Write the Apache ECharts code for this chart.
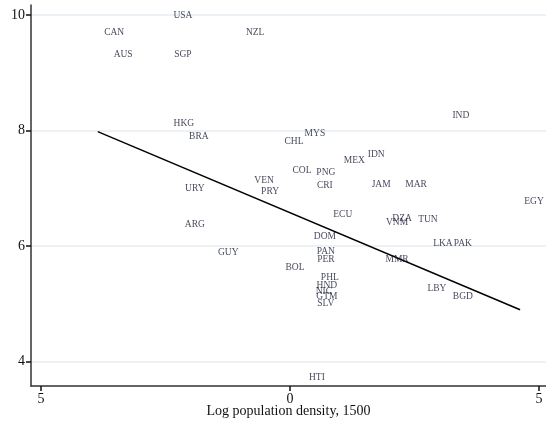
<!DOCTYPE html>
<html>
<head>
<meta charset="utf-8">
<script src="https://cdn.jsdelivr.net/npm/echarts@6/dist/echarts.min.js"></script>
<style>html,body{margin:0;padding:0;background:#fff;}#c{width:546px;height:425px;}</style>
</head>
<body>
<div id="c"></div>
<script>
var codes = ["USA","CAN","NZL","AUS","SGP","HKG","BRA","IND","MYS","CHL","MEX","IDN","COL","PNG","CRI","JAM","MAR","VEN","PRY","URY","EGY","ECU","DZA","VNM","TUN","ARG","DOM","LKA","PAK","GUY","PAN","PER","MMR","BOL","PHL","HND","NIC","GTM","SLV","LBY","BGD","HTI"];
var xVals = [-2.15,-3.53,-0.70,-3.35,-2.15,-2.13,-1.83,3.43,0.50,0.08,1.29,1.73,0.24,0.72,0.70,1.83,2.53,-0.52,-0.40,-1.91,4.90,1.06,2.25,2.15,2.77,-1.91,0.70,3.07,3.47,-1.24,0.72,0.72,2.15,0.10,0.80,0.74,0.68,0.74,0.72,2.95,3.47,0.54];
var yVals = [10.00,9.72,9.72,9.33,9.33,8.13,7.91,8.27,7.96,7.82,7.49,7.60,7.32,7.29,7.06,7.09,7.09,7.15,6.96,7.01,6.78,6.56,6.49,6.42,6.47,6.39,6.18,6.06,6.06,5.90,5.92,5.78,5.78,5.64,5.47,5.33,5.24,5.14,5.02,5.28,5.14,3.74];
var fitX = [-3.86, 4.62];
var fitY = [7.98, 4.90];
var yTicks = [4, 6, 8, 10];
var xTicks = [-5, 0, 5];

var pts = codes.map(function(c, i){ return {value:[xVals[i], yVals[i]], name:c}; });
var chart = echarts.init(document.getElementById('c'), null, {renderer:'canvas'});
var serif = '"Liberation Serif","DejaVu Serif",serif';
chart.setOption({
  animation:false,
  backgroundColor:'#fff',
  grid:{left:31, right:0, top:5, bottom:39, containLabel:false, outerBoundsMode:'none'},
  xAxis:{
    type:'value', min:-5.2, max:5.14,
    name:'Log population density, 1500', nameLocation:'middle', nameGap:18, nameMoveOverlap:false,
    nameTextStyle:{fontFamily:serif, fontSize:14, color:'#111', verticalAlign:'top'},
    axisLine:{show:true, onZero:false, lineStyle:{color:'#333', width:1.5}},
    axisTick:{show:true, length:5, lineStyle:{color:'#111', width:1.5}, customValues:xTicks},
    axisLabel:{fontFamily:serif, fontSize:14, color:'#111', margin:6, customValues:xTicks,
      formatter:function(v){ return String(Math.abs(v)); }},
    splitLine:{show:false}
  },
  yAxis:{
    type:'value', min:3.58, max:10.17,
    axisLine:{show:true, onZero:false, lineStyle:{color:'#333', width:1.5}},
    axisTick:{show:true, length:5, lineStyle:{color:'#111', width:1.5}, customValues:yTicks},
    axisLabel:{fontFamily:serif, fontSize:14, color:'#111', margin:6, customValues:yTicks},
    splitLine:{show:false}
  },
  series:[
    {
      type:'line', data:[], silent:true, z:0, zlevel:0,
      markLine:{silent:true, symbol:'none', label:{show:false}, z:0,
        lineStyle:{color:'#e6edf2', width:1.5, type:'solid'},
        data:yTicks.map(function(t){ return {yAxis:t}; })}
    },
    {
      type:'line', data:fitX.map(function(x,i){ return [x, fitY[i]]; }),
      symbol:'none', lineStyle:{color:'#000', width:1.5}, z:5
    },
    {
      type:'scatter', data:pts, symbolSize:0, z:6,
      label:{show:true, position:'inside', offset:[0,1], formatter:'{b}', fontFamily:serif, fontSize:9.5, color:'#141530'}
    }
  ]
});
</script>
</body>
</html>
